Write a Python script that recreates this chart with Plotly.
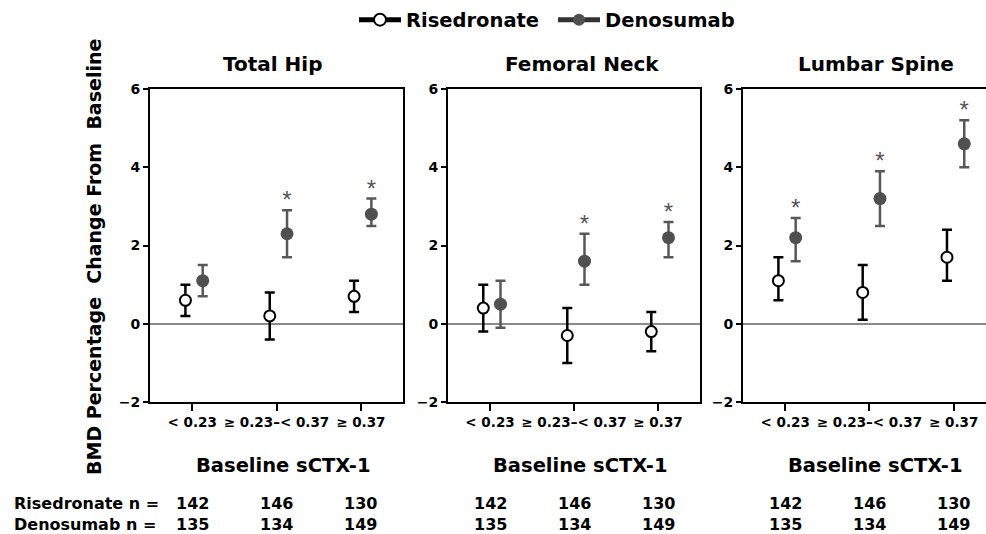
import plotly.graph_objects as go

# ---------------- data ----------------
categories = ["< 0.23", "\u2265 0.23\u2013< 0.37", "\u2265 0.37"]
panel_titles = ["Total Hip", "Femoral Neck", "Lumbar Spine"]

hip_ris = [0.6, 0.2, 0.7]
hip_ris_lo = [0.2, -0.4, 0.3]
hip_ris_hi = [1.0, 0.8, 1.1]
hip_den = [1.1, 2.3, 2.8]
hip_den_lo = [0.7, 1.7, 2.5]
hip_den_hi = [1.5, 2.9, 3.2]
hip_sig = [False, True, True]

neck_ris = [0.4, -0.3, -0.2]
neck_ris_lo = [-0.2, -1.0, -0.7]
neck_ris_hi = [1.0, 0.4, 0.3]
neck_den = [0.5, 1.6, 2.2]
neck_den_lo = [-0.1, 1.0, 1.7]
neck_den_hi = [1.1, 2.3, 2.6]
neck_sig = [False, True, True]

spine_ris = [1.1, 0.8, 1.7]
spine_ris_lo = [0.6, 0.1, 1.1]
spine_ris_hi = [1.7, 1.5, 2.4]
spine_den = [2.2, 3.2, 4.6]
spine_den_lo = [1.6, 2.5, 4.0]
spine_den_hi = [2.7, 3.9, 5.2]
spine_sig = [True, True, True]

n_ris = [142, 146, 130]
n_den = [135, 134, 149]

y_ticks = [-2, 0, 2, 4, 6]

# ---------------- styling ----------------
W, H = 986, 534
BOLD = "DejaVu Sans"
RIS_OFF, DEN_OFF = -0.08, 0.125
DEN_COLOR = "#505050"
DEN_ERR = "#585858"
TITLE_SHIFT = [-4, 8, 7]

panels = [
    (hip_ris, hip_ris_lo, hip_ris_hi, hip_den, hip_den_lo, hip_den_hi, hip_sig),
    (neck_ris, neck_ris_lo, neck_ris_hi, neck_den, neck_den_lo, neck_den_hi, neck_sig),
    (spine_ris, spine_ris_lo, spine_ris_hi, spine_den, spine_den_lo, spine_den_hi, spine_sig),
]

x_domains = [[150 / W, 403 / W], [448 / W, 700 / W], [743 / W, 1.0]]
x_ranges = [[-0.5, 2.5], [-0.5, 2.5], [-0.5, 2.383]]
y_domain = [1 - 402 / H, 1 - 89 / H]

fig = go.Figure()

for p, (r, rlo, rhi, d, dlo, dhi, sig) in enumerate(panels):
    xa = "x" if p == 0 else f"x{p+1}"
    ya = "y" if p == 0 else f"y{p+1}"
    idx = list(range(len(categories)))
    # Denosumab
    fig.add_trace(go.Scatter(
        x=[i + DEN_OFF for i in idx], y=d, mode="markers", xaxis=xa, yaxis=ya,
        showlegend=False, cliponaxis=False,
        marker=dict(symbol="circle", size=13, color=DEN_COLOR, line=dict(width=0)),
        error_y=dict(type="data", symmetric=False,
                     array=[h - m for h, m in zip(dhi, d)],
                     arrayminus=[m - l for m, l in zip(d, dlo)],
                     color=DEN_ERR, thickness=2.5, width=5),
    ))
    # Risedronate
    fig.add_trace(go.Scatter(
        x=[i + RIS_OFF for i in idx], y=r, mode="markers", xaxis=xa, yaxis=ya,
        showlegend=False, cliponaxis=False,
        marker=dict(symbol="circle", size=11, color="white", line=dict(width=2, color="black")),
        error_y=dict(type="data", symmetric=False,
                     array=[h - m for h, m in zip(rhi, r)],
                     arrayminus=[m - l for m, l in zip(r, rlo)],
                     color="black", thickness=2.5, width=5),
    ))
    # significance asterisks
    sx = [i + DEN_OFF for i, s in zip(idx, sig) if s]
    sy = [h + 0.2 for h, s in zip(dhi, sig) if s]
    fig.add_trace(go.Scatter(
        x=sx, y=sy, mode="text", text=["*"] * len(sx), xaxis=xa, yaxis=ya,
        textposition="middle center", showlegend=False, cliponaxis=False,
        textfont=dict(family="Liberation Sans", size=24, color="#555555"),
    ))

# legend-only traces
fig.add_trace(go.Scatter(
    x=[None], y=[None], mode="lines+markers", name="Risedronate",
    line=dict(color="black", width=2),
    marker=dict(symbol="circle", size=8, color="white", line=dict(width=2, color="black")),
))
fig.add_trace(go.Scatter(
    x=[None], y=[None], mode="lines+markers", name="Denosumab",
    line=dict(color="#333333", width=2),
    marker=dict(symbol="circle", size=8, color=DEN_COLOR, line=dict(width=0)),
))

layout = dict(
    width=W, height=H,
    margin=dict(l=0, r=0, t=0, b=0, autoexpand=False),
    paper_bgcolor="white", plot_bgcolor="white",
    showlegend=True,
    legend=dict(orientation="h", xref="container", yref="container",
                x=354 / W, xanchor="left", y=1 - 20 / H, yanchor="middle",
                itemwidth=42, entrywidth=142, entrywidthmode="pixels",
                font=dict(family=BOLD, size=19.5, color="black", weight="bold"),
                itemsizing="constant", bgcolor="rgba(0,0,0,0)"),
)

annotations = []
for p in range(3):
    xk = "xaxis" if p == 0 else f"xaxis{p+1}"
    yk = "yaxis" if p == 0 else f"yaxis{p+1}"
    xr = "x" if p == 0 else f"x{p+1}"
    layout[xk] = dict(
        domain=x_domains[p], range=x_ranges[p], anchor=xr.replace("x", "y"),
        tickvals=list(range(len(categories))), ticktext=categories,
        ticks="outside", ticklen=7, tickwidth=2, tickcolor="black",
        showline=True, linewidth=2, linecolor="black", mirror=True,
        showgrid=False, zeroline=False, fixedrange=True, automargin=False,
        tickfont=dict(family=BOLD, size=13.5, color="black", weight="bold"),
    )
    layout[yk] = dict(
        domain=y_domain, range=[-2, 6], anchor=xr,
        tickvals=y_ticks, ticks="outside", ticklen=5, tickwidth=2, tickcolor="black",
        showline=True, linewidth=2, linecolor="black", mirror=(p < 2),
        showgrid=False, zeroline=True, zerolinecolor="#8a8a8a", zerolinewidth=1.5,
        fixedrange=True, automargin=False,
        tickfont=dict(family=BOLD, size=14, color="black", weight="bold"),
    )
    # panel title
    annotations.append(dict(
        text=panel_titles[p], xref=xr, yref="paper", x=1, y=1 - 64 / H,
        xanchor="center", yanchor="middle", showarrow=False, xshift=TITLE_SHIFT[p],
        font=dict(family=BOLD, size=20, color="black", weight="bold"),
    ))
    # x axis title
    annotations.append(dict(
        text="Baseline sCTX-1", xref=xr, yref="paper", x=1, y=1 - 465 / H,
        xanchor="center", yanchor="middle", showarrow=False, xshift=6,
        font=dict(family=BOLD, size=19.5, color="black", weight="bold"),
    ))
    # n counts (Risedronate over Denosumab)
    for i in range(len(categories)):
        annotations.append(dict(
            text=f"{n_ris[i]}<br>{n_den[i]}", xref=xr, yref="paper", x=i, y=1 - 514 / H,
            xanchor="center", yanchor="middle", showarrow=False,
            font=dict(family=BOLD, size=16, color="black", weight="bold"),
        ))

annotations.append(dict(
    text="Risedronate n =<br>Denosumab n =", xref="paper", yref="paper",
    x=12 / W, y=1 - 514 / H, xanchor="left", yanchor="middle", align="left",
    showarrow=False,
    font=dict(family=BOLD, size=16, color="black", weight="bold"),
))
annotations.append(dict(
    text="BMD Percentage\u00a0 Change From\u00a0 Baseline", xref="paper", yref="paper",
    x=94 / W, y=1 - 257 / H, xanchor="center", yanchor="middle", textangle=-90,
    showarrow=False, font=dict(family=BOLD, size=19, color="black", weight="bold"),
))

layout["annotations"] = annotations
fig.update_layout(**layout)

fig.write_html("out.html", config={"displayModeBar": False},
               post_script="document.body.style.margin='0px';")
